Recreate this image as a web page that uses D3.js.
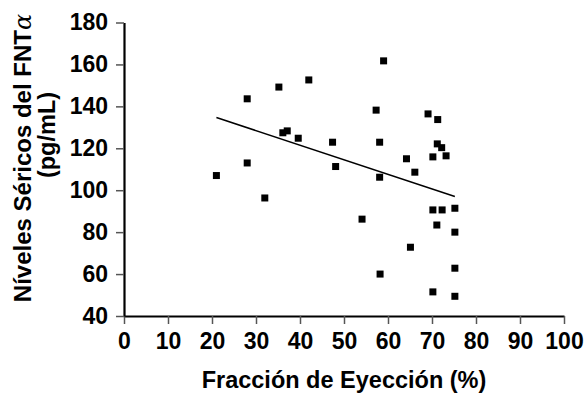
<!DOCTYPE html>
<html>
<head>
<meta charset="utf-8">
<script src="https://cdn.jsdelivr.net/npm/d3@7"></script>
<style>
  body { margin: 0; background: #fff; }
  text { font-family: "Liberation Sans", Arial, sans-serif; font-weight: bold; }
</style>
</head>
<body>
<div id="chart"></div>
<script>
// fracción de eyección (%) for each patient
const fe = [21, 28, 28, 32, 35.2, 36.1, 37.1, 39.6, 42, 47.4, 48.1, 54.1, 57.3, 58.1, 58.1, 58.2, 59,
  64.2, 65.1, 66.1, 69.1, 70.2, 70.2, 70.2, 71.3, 71.2, 71.1, 72.2, 72.3, 73.2, 75.2, 75.2, 75.2, 75.2];
// niveles séricos FNT-alfa (pg/mL)
const fnt = [107, 143.6, 113, 96.3, 149.2, 127.4, 128.3, 124.8, 152.6, 122.9, 111.3, 86.2, 138.2, 122.9, 106.2, 60, 161.7,
  115, 72.8, 108.6, 136.4, 115.9, 90.6, 51.5, 133.7, 122.1, 83.4, 120.3, 90.6, 116.4, 91.4, 80, 62.8, 49.4];
// regression line
const fitSlope = -0.696;
const fitIntercept = 149.3;

const xTicks = [0, 10, 20, 30, 40, 50, 60, 70, 80, 90, 100];
const yTicks = [40, 60, 80, 100, 120, 140, 160, 180];

const width = 587, height = 393;
const margin = { top: 22.5, right: 23, bottom: 77, left: 124 };

const svg = d3.select('#chart')
  .append('svg')
  .attr('width', width)
  .attr('height', height);

const x = d3.scaleLinear().domain([0, 100]).range([margin.left, width - margin.right]);
const y = d3.scaleLinear().domain([40, 180]).range([height - margin.bottom, margin.top]);

const data = fe.map((d, i) => ({ fe: d, fnt: fnt[i] }));

// axes
const gx = svg.append('g')
  .attr('transform', `translate(0,${y(40)})`)
  .call(d3.axisBottom(x).tickValues(xTicks).tickSize(8).tickSizeOuter(0).tickPadding(9));

const gy = svg.append('g')
  .attr('transform', `translate(${x(0)},0)`)
  .call(d3.axisLeft(y).tickValues(yTicks).tickSize(8).tickSizeOuter(0).tickPadding(8));

[gx, gy].forEach(g => {
  g.select('.domain').attr('stroke', '#000').attr('stroke-width', 2.2);
  g.selectAll('.tick line').attr('stroke', '#555').attr('stroke-width', 1.5);
  g.selectAll('.tick text').attr('fill', '#000').style('font-size', '23px');
});

// fit line over the data range
const xr = d3.extent(fe);
svg.append('line')
  .attr('x1', x(xr[0])).attr('y1', y(fitIntercept + fitSlope * xr[0]))
  .attr('x2', x(xr[1])).attr('y2', y(fitIntercept + fitSlope * xr[1]))
  .attr('stroke', '#000')
  .attr('stroke-width', 1.5);

// points
const sz = 7;
svg.selectAll('.pt')
  .data(data)
  .enter()
  .append('rect')
  .attr('class', 'pt')
  .attr('x', d => x(d.fe) - sz / 2)
  .attr('y', d => y(d.fnt) - sz / 2)
  .attr('width', sz)
  .attr('height', sz)
  .attr('fill', '#000');

// titles
svg.append('text')
  .attr('x', (x(0) + x(100)) / 2)
  .attr('y', 388)
  .attr('text-anchor', 'middle')
  .style('font-size', '23.5px')
  .text('Fracción de Eyección (%)');

const yl = svg.append('text')
  .attr('transform', 'translate(31,158) rotate(-90)')
  .attr('text-anchor', 'middle')
  .style('font-size', '24px');
yl.append('tspan').text('Níveles Séricos del FNT');
yl.append('tspan')
  .style('font-family', '"DejaVu Serif", serif')
  .style('font-style', 'italic')
  .style('font-weight', 'normal')
  .text('α');

svg.append('text')
  .attr('transform', 'translate(55,135) rotate(-90)')
  .attr('text-anchor', 'middle')
  .style('font-size', '23.5px')
  .text('(pg/mL)');
</script>
</body>
</html>
